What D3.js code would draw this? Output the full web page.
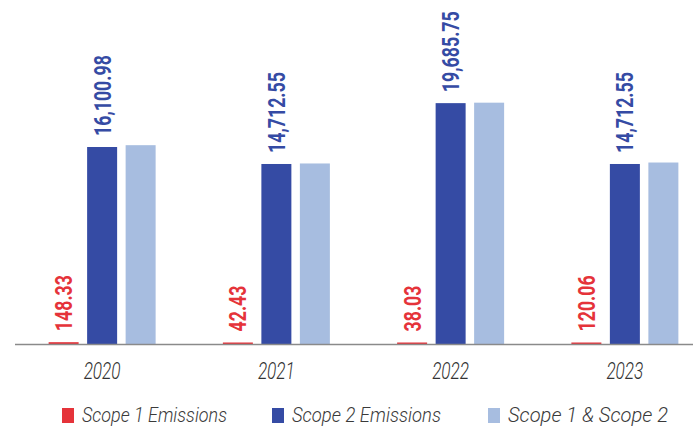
<!DOCTYPE html>
<html><head><meta charset="utf-8">
<script src="https://cdn.jsdelivr.net/npm/d3@7"></script>
<style>body{margin:0;background:#fff}svg{display:block}</style>
</head><body><svg id="c" width="693" height="426"></svg>
<script>
const years = ["2020","2021","2022","2023"];
const scope1 = [148.33, 42.43, 38.03, 120.06];
const scope2 = [16100.98, 14712.55, 19685.75, 14712.55];
const scope12 = [16249.31, 14754.98, 19723.78, 14832.61];
const seriesNames = ["Scope 1 Emissions","Scope 2 Emissions","Scope 1 & Scope 2"];
const colors = ["#e5333a","#354ba4","#a7bde0"];

const svg = d3.select("#c");
const baseY = 344;
const x = d3.scaleBand().domain(years).range([15, 712]).padding(0);
const y = d3.scaleLinear().domain([0, 16100.98]).range([baseY, 147]);
const barW = 30, gap = 8.5;
const offsets = [-(barW+gap), 0, barW+gap];
const series = [scope1, scope2, scope12];
const fmt = d3.format(",.2f");

series.forEach((vals, si) => {
  svg.append("g").selectAll("rect").data(vals).join("rect")
    .attr("x", (d,i) => x(years[i]) + x.bandwidth()/2 + offsets[si] - barW/2)
    .attr("width", barW)
    .attr("y", d => Math.min(y(d), baseY - 1.5))
    .attr("height", d => Math.max(baseY - y(d), 1.5))
    .attr("fill", colors[si]);
});

// axis baseline
svg.append("line").attr("x1",15).attr("x2",693).attr("y1",baseY+0.5).attr("y2",baseY+0.5)
  .attr("stroke","#8a8a8a").attr("stroke-width",1.5);

// value labels for scope 1 and scope 2
[0,1].forEach(si => {
  svg.append("g").selectAll("text").data(series[si]).join("text")
    .attr("transform", (d,i) => {
      const cx = x(years[i]) + x.bandwidth()/2 + offsets[si];
      const ty = Math.min(y(d), baseY - 1.5) - 11;
      return `translate(${cx + 8.5},${ty}) rotate(-90) scale(0.74,1)`;
    })
    .attr("font-family","Roboto, 'DejaVu Sans', sans-serif")
    .attr("font-weight","700")
    .attr("font-size", 24)
    .attr("fill", colors[si])
    .text(d => fmt(d));
});

// year labels
svg.append("g").selectAll("text").data(years).join("text")
  .attr("x", d => x(d)+x.bandwidth()/2 - 18.5)
  .attr("y", 379)
  .attr("font-family","Roboto, sans-serif")
  .attr("font-style","italic")
  .attr("font-weight","300")
  .attr("font-size", 23)
  .attr("textLength", 37).attr("lengthAdjust","spacingAndGlyphs")
  .attr("fill","#333")
  .text(d => d);

// legend
const legX = [62, 272, 488];
const legW = [145, 149, 160];
const lg = svg.append("g");
seriesNames.forEach((n, i) => {
  lg.append("rect").attr("x", legX[i]).attr("y", 408).attr("width", 12).attr("height", 15).attr("fill", colors[i]);
  lg.append("text").attr("x", legX[i] + 20).attr("y", 421.5)
    .attr("font-family","Roboto, sans-serif").attr("font-style","italic").attr("font-weight","300")
    .attr("font-size", 19.5).attr("fill","#3a3a3a")
    .attr("textLength", legW[i]).attr("lengthAdjust","spacingAndGlyphs")
    .text(n);
});
</script></body></html>
